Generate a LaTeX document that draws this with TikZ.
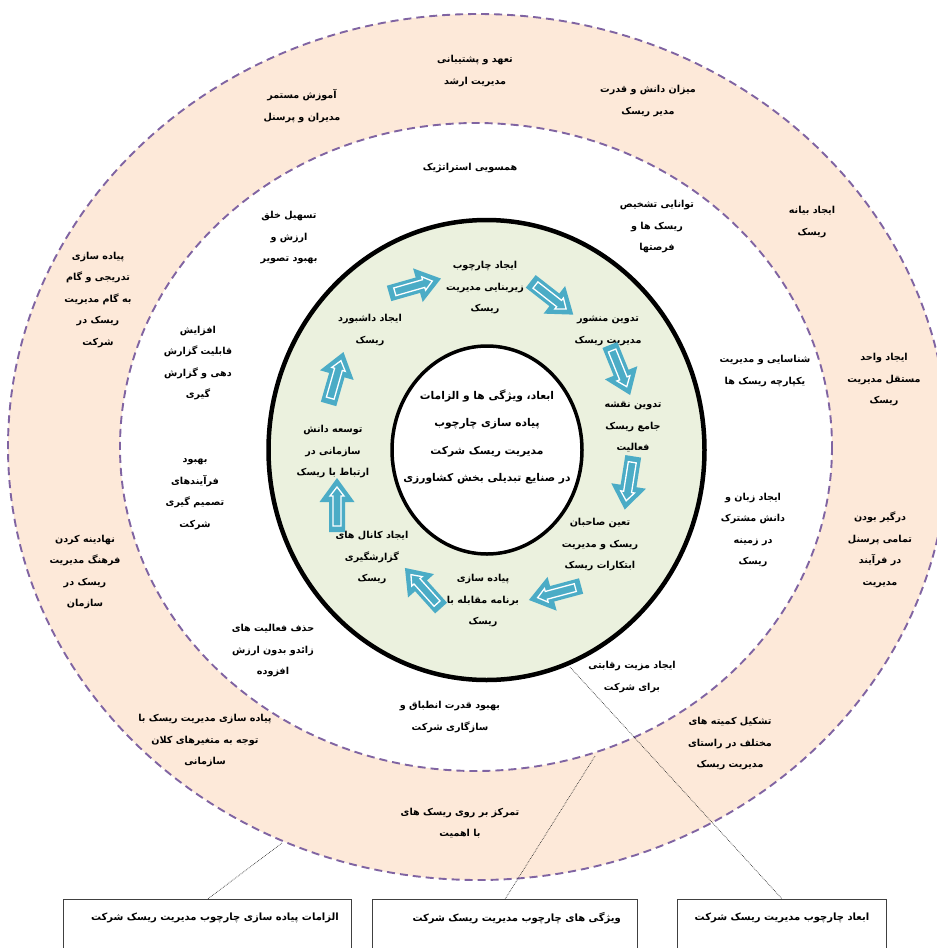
\documentclass[tikz,border=0pt]{standalone}
\usepackage{fontspec}
\newfontfamily\fa[Script=Arabic]{DejaVu Sans}
\TeXXeTstate=1
\newcommand\rl[1]{\beginR#1\endR}
\definecolor{peach}{HTML}{FDE9D9}
\definecolor{ringgreen}{HTML}{EBF1DE}
\definecolor{dashpurple}{HTML}{8064A2}
\definecolor{arrowblue}{HTML}{4BACC6}
\tikzset{
  t/.style={font=\fa\bfseries\fontsize{9.6}{21.5}\selectfont, align=center, inner sep=0pt},
  ctr/.style={font=\fa\bfseries\fontsize{10.7}{27.5}\selectfont, align=center, inner sep=0pt},
  btxt/.style={font=\fa\bfseries\fontsize{10}{14}\selectfont, inner sep=0pt},
  boxst/.style={draw=black!75, line width=1.3pt, minimum height=100pt, inner sep=0pt},
  ring/.style={draw=dashpurple, line width=1.9pt, dash pattern=on 8pt off 5pt},
  lead/.style={draw=black!80, line width=0.7pt, densely dotted},
  blockarrow/.pic={
    \fill[arrowblue] (-27,-8) -- (3,-8) -- (3,-17.5) -- (27,0) -- (3,17.5) -- (3,8) -- (-27,8) -- cycle;
    \draw[white, line width=1.3pt, line join=miter] (-21,-4) -- (9,-4) -- (9,-7) -- (18,0) -- (9,7) -- (9,4) -- (-21,4) -- cycle;
  }
}
\begin{document}
\begin{tikzpicture}[x=1pt,y=-1pt]
\useasboundingbox (0,0) rectangle (937,948);
\clip (0,0) rectangle (937,948);
% bands
\fill[peach, even odd rule] (478,447) ellipse [x radius=470, y radius=433] (476,447) ellipse [x radius=356, y radius=324];
\draw[ring] (478,447) ellipse [x radius=470, y radius=433];
\draw[ring] (476,447) ellipse [x radius=356, y radius=324];
\filldraw[fill=ringgreen, draw=black, line width=4.5pt] (486.5,450) ellipse [x radius=218, y radius=230];
\filldraw[fill=white, draw=black, line width=3.5pt] (487,450) ellipse [x radius=95, y radius=104];

% outer band texts
\node[t] (o1) at (475,71) {\rl{تعهد و پشتیبانی}\\\rl{مدیریت ارشد}};
\node[t] (o2) at (302,106) {\rl{آموزش مستمر}\\\rl{مدیران و پرسنل}};
\node[t] (o3) at (648,101) {\rl{میزان دانش و قدرت}\\\rl{مدیر ریسک}};
\node[t] (o4) at (812,222) {\rl{ایجاد بیانه}\\\rl{ریسک}};
\node[t] (o5) at (98,300) {\rl{پیاده سازی}\\\rl{تدریجی و گام}\\\rl{به گام مدیریت}\\\rl{ریسک در}\\\rl{شرکت}};
\node[t] (o6) at (884,380) {\rl{ایجاد واحد}\\\rl{مستقل مدیریت}\\\rl{ریسک}};
\node[t] (o7) at (85,572) {\rl{نهادینه کردن}\\\rl{فرهنگ مدیریت}\\\rl{ریسک در}\\\rl{سازمان}};
\node[t] (o8) at (880,550) {\rl{درگیر بودن}\\\rl{تمامی پرسنل}\\\rl{در فرآیند}\\\rl{مدیریت}};
\node[t] (o9) at (205,741) {\rl{پیاده سازی مدیریت ریسک با}\\\rl{توجه به متغیرهای کلان}\\\rl{سازمانی}};
\node[t] (o10) at (460,823) {\rl{تمرکز بر روی ریسک های}\\\rl{با اهمیت}};
\node[t] (o11) at (730,744) {\rl{تشکیل کمیته های}\\\rl{مختلف در راستای}\\\rl{مدیریت ریسک}};

% middle band texts
\node[t] (m1) at (470,168) {\rl{همسویی استراتژیک}};
\node[t] (m2) at (289,238) {\rl{تسهیل خلق}\\\rl{ارزش و}\\\rl{بهبود تصویر}};
\node[t] (m3) at (657,227) {\rl{توانایی تشخیص}\\\rl{ریسک ها و}\\\rl{فرصتها}};
\node[t] (m4) at (198,363) {\rl{افزایش}\\\rl{قابلیت گزارش}\\\rl{دهی و گزارش}\\\rl{گیری}};
\node[t] (m5) at (765,371) {\rl{شناسایی و مدیریت}\\\rl{یکپارچه ریسک ها}};
\node[t] (m6) at (195,494) {\rl{بهبود}\\\rl{فرآیندهای}\\\rl{تصمیم گیری}\\\rl{شرکت}};
\node[t] (m7) at (753,530) {\rl{ایجاد زبان و}\\\rl{دانش مشترک}\\\rl{در زمینه}\\\rl{ریسک}};
\node[t] (m8) at (273,651) {\rl{حذف فعالیت های}\\\rl{زائدو بدون ارزش}\\\rl{افزوده}};
\node[t] (m9) at (450,717) {\rl{بهبود قدرت انطباق و}\\\rl{سازگاری شرکت}};
\node[t] (m10) at (632,677) {\rl{ایجاد مزیت رقابتی}\\\rl{برای شرکت}};

% green ring texts
\node[t] (g1) at (485,288) {\rl{ایجاد چارچوب}\\\rl{زیربنایی مدیریت}\\\rl{ریسک}};
\node[t] (g2) at (608,331) {\rl{تدوین منشور}\\\rl{مدیریت ریسک}};
\node[t] (g3) at (633,427) {\rl{تدوین نقشه}\\\rl{جامع ریسک}\\\rl{فعالیت}};
\node[t] (g4) at (600,545) {\rl{تعین صاحبان}\\\rl{ریسک و مدیریت}\\\rl{ابتکارات ریسک}};
\node[t] (g5) at (483,601) {\rl{پیاده سازی}\\\rl{برنامه مقابله با}\\\rl{ریسک}};
\node[t] (g6) at (372,558) {\rl{ایجاد کانال های}\\\rl{گزارشگیری}\\\rl{ریسک}};
\node[t] (g7) at (333,452) {\rl{توسعه دانش}\\\rl{سازمانی در}\\\rl{ارتباط با ریسک}};
\node[t] (g8) at (370,330) {\rl{ایجاد داشبورد}\\\rl{ریسک}};

% arrows
\pic[rotate=16] at (415,286) {blockarrow};
\pic[rotate=-38] at (552,298) {blockarrow};
\pic[rotate=-68] at (620,370) {blockarrow};
\pic[rotate=-99] at (629,483) {blockarrow};
\pic[rotate=195] at (555,593) {blockarrow};
\pic[rotate=132] at (423,588) {blockarrow};
\pic[rotate=90] at (337,505) {blockarrow};
\pic[rotate=74] at (336,378) {blockarrow};

% centre
\node[ctr] (c) at (487,437) {\rl{ابعاد، ویژگی ها و الزامات}\\\rl{پیاده سازی چارچوب}\\\rl{مدیریت ریسک شرکت}\\\rl{در صنایع تبدیلی بخش کشاورزی}};

% bottom boxes
\node[boxst, minimum width=288pt, anchor=north west] (b1) at (63,899) {};
\node[boxst, minimum width=265pt, anchor=north west] (b2) at (372,899) {};
\node[boxst, minimum width=209pt, anchor=north west] (b3) at (677,899) {};
\node[btxt, anchor=east] (b1t) at (339,918) {\rl{الزامات پیاده سازی چارچوب مدیریت ریسک شرکت}};
\node[btxt, anchor=east] (b2t) at (621,918) {\rl{ویژگی های چارچوب مدیریت ریسک شرکت}};
\node[btxt] (b3t) at (782,918) {\rl{ابعاد چارچوب مدیریت ریسک شرکت}};

% leaders
\coordinate (p1) at (282,843);
\coordinate (p2) at (595,756);
\coordinate (p3) at (570,667);
\draw[lead] (p1) -- (b1.north);
\draw[lead] (p2) -- (b2.north);
\draw[lead] (p3) -- (b3.north);
\end{tikzpicture}
\end{document}
